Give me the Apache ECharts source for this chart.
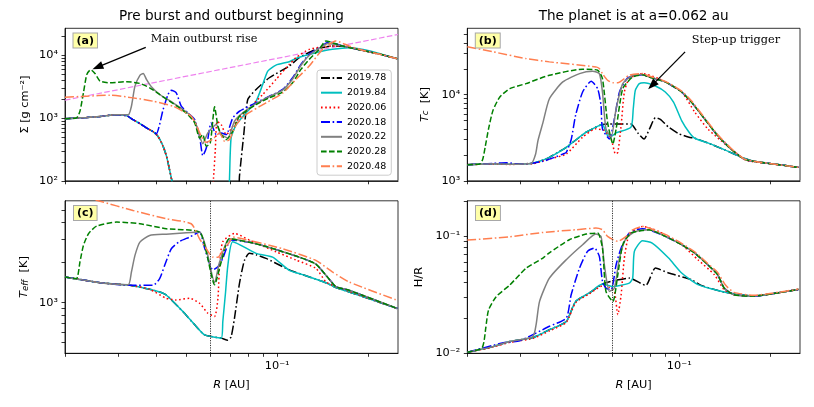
<!DOCTYPE html>
<html><head><meta charset="utf-8">
<script src="https://cdn.jsdelivr.net/npm/echarts@6/dist/echarts.min.js"></script>
<style>html,body{margin:0;padding:0;background:#fff}#c{width:814px;height:407px}</style>
</head><body><div id="c"></div>
<script>
// ---------- data ----------
const years = ['2019.78','2019.84','2020.06','2020.18','2020.22','2020.28','2020.48'];

const rTicks = [0.02,0.03,0.04,0.05,0.06,0.07,0.08,0.09,0.1,0.2];
const rLabels = [0.1];
const sigTicks = [100,200,300,400,500,600,700,800,900,1000,2000,3000,4000,5000,6000,7000,8000,9000,10000,20000];
const sigLabels = [100,1000,10000];
const tcTicks = [1000,2000,3000,4000,5000,6000,7000,8000,9000,10000,20000,30000,40000,50000];
const tcLabels = [1000,10000];
const teffTicks = [400,500,600,700,800,900,1000,2000,3000,4000,5000];
const teffLabels = [1000];
const hrTicks = [0.01,0.02,0.03,0.04,0.05,0.06,0.07,0.08,0.09,0.1,0.2];
const hrLabels = [0.01,0.1];
const planetR = 0.062;

// Panel (a): surface density
const sig_1978 = [[0.020,980],[0.0236,1020],[0.0261,1060],[0.0292,1130],[0.0319,1090],[0.0335,946],[0.0353,817],[0.0371,697],[0.0390,608],[0.0405,512],[0.0421,354],[0.0432,245],[0.0442,150],[0.0451,95],[0.0460,60],[0.0745,60],[0.0751,117],[0.0776,545],[0.0800,1977],[0.0852,2858],[0.0942,4396],[0.1096,6745],[0.1182,9180],[0.1341,12470],[0.152,14100],[0.1641,14000],[0.1957,11700],[0.2219,10200],[0.2487,8840]];
const sig_1984 = [[0.020,980],[0.0236,1020],[0.0261,1060],[0.0292,1130],[0.0319,1090],[0.0335,946],[0.0353,817],[0.0371,697],[0.0390,608],[0.0405,512],[0.0421,354],[0.0432,245],[0.0442,150],[0.0451,95],[0.0460,60],[0.0690,50],[0.0696,98],[0.0705,482],[0.0733,787],[0.0790,1211],[0.0852,1857],[0.0896,3435],[0.0931,5610],[0.0991,6995],[0.1096,7920],[0.1168,9180],[0.1341,11000],[0.152,12470],[0.1726,13270],[0.1957,12170],[0.2219,10370],[0.2487,8840]];
const sig_2006 = [[0.020,980],[0.0236,1020],[0.0261,1060],[0.0292,1130],[0.0319,1090],[0.0335,946],[0.0353,817],[0.0371,697],[0.0390,608],[0.0405,512],[0.0421,354],[0.0432,245],[0.0442,150],[0.0451,95],[0.0460,60],[0.0610,60],[0.0617,110],[0.0625,294],[0.0634,889],[0.0654,787],[0.0679,545],[0.0733,889],[0.0810,1456],[0.0896,2377],[0.0991,4130],[0.1096,7180],[0.1153,9180],[0.1275,12470],[0.152,14100],[0.1641,14000],[0.1957,11700],[0.2219,10200],[0.2487,8840]];
const sig_2018 = [[0.020,980],[0.0236,1020],[0.0261,1060],[0.0292,1130],[0.0319,1090],[0.0335,946],[0.0353,817],[0.0371,697],[0.0390,608],[0.0400,565],[0.0421,1368],[0.0437,2377],[0.0448,2786],[0.0465,2530],[0.0483,1546],[0.0508,1211],[0.0535,946],[0.0555,512],[0.0569,251],[0.0584,333],[0.0606,837],[0.0630,545],[0.0654,580],[0.0679,545],[0.0714,1006],[0.0751,1285],[0.0852,1750],[0.0942,2230],[0.1042,2860],[0.1124,4390],[0.1197,7180],[0.1275,10370],[0.1376,13260],[0.1484,16340],[0.1641,14100],[0.1957,11730],[0.2219,10200],[0.2487,8840]];
const sig_2022 = [[0.020,980],[0.0236,1020],[0.0261,1060],[0.0292,1130],[0.0323,1125],[0.0331,1546],[0.0340,3228],[0.0353,4786],[0.0362,5152],[0.0371,4130],[0.0385,3155],[0.0410,2377],[0.0454,1750],[0.0489,1368],[0.0521,1070],[0.0541,787],[0.0555,512],[0.0569,391],[0.0591,580],[0.0630,787],[0.0654,545],[0.0688,482],[0.0723,889],[0.0770,1211],[0.0852,1700],[0.0942,2200],[0.1042,2800],[0.1124,4200],[0.1197,6900],[0.1275,10000],[0.1376,13000],[0.1470,15500],[0.1641,14100],[0.1957,11730],[0.2219,10200],[0.2487,8840]];
const sig_2028 = [[0.020,980],[0.0218,1000],[0.0224,1285],[0.0230,2530],[0.0236,4967],[0.0243,5900],[0.0251,5150],[0.0261,3880],[0.0281,3657],[0.0319,3800],[0.0353,3566],[0.0380,3040],[0.0410,2377],[0.0442,1857],[0.0477,1456],[0.0508,1138],[0.0535,837],[0.0555,482],[0.0569,545],[0.0584,354],[0.0602,401],[0.0622,1510],[0.0638,740],[0.0654,545],[0.0679,453],[0.0714,615],[0.0751,1070],[0.0852,1644],[0.0942,2100],[0.1042,2590],[0.1124,3657],[0.1197,5970],[0.1275,8630],[0.1376,12470],[0.1446,16960],[0.152,15960],[0.1641,14100],[0.1957,11730],[0.2219,10200],[0.2487,8840]];
const sig_2048 = [[0.020,2150],[0.0236,2235],[0.0281,2317],[0.0335,2100],[0.0390,1857],[0.0454,1546],[0.0489,1285],[0.0521,1070],[0.0541,787],[0.0562,512],[0.0584,410],[0.0614,464],[0.0646,580],[0.0671,426],[0.0696,453],[0.0733,787],[0.0790,1138],[0.0919,1750],[0.1042,2500],[0.1153,4130],[0.1275,6750],[0.1411,12470],[0.156,16960],[0.1726,14100],[0.1957,11730],[0.2219,10200],[0.2487,8840]];
const sig_fit = [[0.02,1930],[0.25,21500]];
const arrowA = [[0.0369,13400],[0.0256,6500]];
const textA = [0.0383,18000];

// Panel (b): central temperature
const tc_1978 = [[0.020,1540],[0.0243,1580],[0.0276,1560],[0.0329,1600],[0.0355,1740],[0.0373,1872],[0.0424,2450],[0.0493,3664],[0.0545,4385],[0.0558,4510],[0.0580,4560],[0.0651,4580],[0.0693,4580],[0.0730,3600],[0.0765,3060],[0.0800,4100],[0.0834,5400],[0.0866,5160],[0.0922,4200],[0.0998,3509],[0.1077,3208],[0.1124,3120],[0.1241,2755],[0.1406,2300],[0.1633,1825],[0.1760,1683],[0.2042,1567],[0.247,1432]];
const tc_1984 = [[0.020,1540],[0.0243,1580],[0.0276,1560],[0.0329,1600],[0.0355,1740],[0.0373,1872],[0.0424,2450],[0.0493,3664],[0.0545,4385],[0.0558,4510],[0.0580,3350],[0.0596,3290],[0.0619,3597],[0.0693,4200],[0.0705,6870],[0.0716,11240],[0.0738,13430],[0.0765,13800],[0.0834,12620],[0.0899,10740],[0.0957,8210],[0.1018,5010],[0.1077,3664],[0.1124,3120],[0.1241,2755],[0.1406,2300],[0.1633,1825],[0.1760,1683],[0.2042,1567],[0.247,1432]];
const tc_2006 = [[0.020,1540],[0.0243,1560],[0.0276,1550],[0.0329,1580],[0.0355,1700],[0.0373,1790],[0.0424,2047],[0.0480,3208],[0.0531,4010],[0.0566,3838],[0.0596,3063],[0.0616,2047],[0.0627,2142],[0.0643,4385],[0.0659,10740],[0.0684,15370],[0.0756,17580],[0.0855,15370],[0.1018,10740],[0.1124,6280],[0.1241,4010],[0.1372,2930],[0.1554,2047],[0.1674,1711],[0.2042,1567],[0.247,1432]];
const tc_2018 = [[0.020,1540],[0.0243,1590],[0.0269,1622],[0.0296,1560],[0.0312,1567],[0.0355,1683],[0.0393,1905],[0.0413,2047],[0.0424,2142],[0.0440,3000],[0.0455,5740],[0.0480,10740],[0.0512,14310],[0.0538,11750],[0.0552,7500],[0.0558,4010],[0.0588,3063],[0.0611,5250],[0.0635,10740],[0.0676,15660],[0.0756,17000],[0.0794,16070],[0.0899,14060],[0.1018,10740],[0.1096,8210],[0.1211,5250],[0.1338,3350],[0.1478,2350],[0.1633,1790],[0.1760,1683],[0.2042,1567],[0.247,1432]];
const tc_2022 = [[0.020,1540],[0.0243,1580],[0.0276,1560],[0.0325,1592],[0.0336,2047],[0.0342,2930],[0.0355,4710],[0.0373,8980],[0.0413,14060],[0.0469,17580],[0.0518,18700],[0.0545,17580],[0.0558,10740],[0.0573,4010],[0.0596,3208],[0.0619,6870],[0.0651,13430],[0.0702,16820],[0.0756,17200],[0.0794,16070],[0.0899,14060],[0.1018,10740],[0.1096,8210],[0.1211,5250],[0.1338,3350],[0.1478,2350],[0.1633,1790],[0.1760,1683],[0.2042,1567],[0.247,1432]];
const tc_2028 = [[0.020,1540],[0.0220,1567],[0.0225,1790],[0.0229,2450],[0.0235,4010],[0.0243,6560],[0.0256,9390],[0.0276,11750],[0.0312,13430],[0.0373,16820],[0.0480,19770],[0.0538,19230],[0.0558,15370],[0.0580,4800],[0.0604,2680],[0.0619,4010],[0.0651,11750],[0.0702,16070],[0.0756,17000],[0.0794,16070],[0.0899,14060],[0.1018,10740],[0.1096,8210],[0.1211,5250],[0.1338,3350],[0.1478,2350],[0.1633,1790],[0.1760,1683],[0.2042,1567],[0.247,1432]];
const tc_2048 = [[0.020,35970],[0.0243,31480],[0.0312,26300],[0.0373,24040],[0.0531,21030],[0.0545,20090],[0.0558,17580],[0.0580,14700],[0.0604,13800],[0.0627,13800],[0.0684,16820],[0.0756,17580],[0.0794,16500],[0.0899,14300],[0.1018,11000],[0.1096,8500],[0.1211,5400],[0.1338,3450],[0.1478,2400],[0.1633,1800],[0.1760,1690],[0.2042,1567],[0.247,1432]];
const arrowB = [[0.1045,31400],[0.0813,12840]];
const textB = [0.110,43000];

// Panel (c): effective temperature
const teff_1978 = [[0.020,1560],[0.0261,1413],[0.0327,1350],[0.0380,1260],[0.0410,1203],[0.0431,1142],[0.0489,856],[0.0541,661],[0.0577,571],[0.0654,540],[0.0688,521],[0.0705,552],[0.0723,758],[0.0751,1390],[0.0780,2080],[0.0810,2350],[0.0852,2296],[0.0919,2155],[0.1042,1866],[0.1124,1722],[0.1213,1624],[0.1446,1413],[0.156,1297],[0.1726,1203],[0.2487,902]];
const teff_1984 = [[0.020,1560],[0.0261,1413],[0.0327,1350],[0.0380,1260],[0.0410,1203],[0.0431,1142],[0.0489,856],[0.0541,661],[0.0577,571],[0.0654,540],[0.0662,720],[0.0676,1203],[0.0688,1919],[0.0714,2877],[0.0852,2350],[0.0966,2203],[0.1096,1750],[0.1213,1624],[0.1446,1413],[0.156,1297],[0.1726,1203],[0.2487,902]];
const teff_2006 = [[0.020,1560],[0.0261,1413],[0.0327,1350],[0.0380,1260],[0.0431,1078],[0.0465,1047],[0.0515,1078],[0.0555,989],[0.0591,831],[0.0622,785],[0.0638,1078],[0.0646,1919],[0.0662,2877],[0.0723,3320],[0.0810,2960],[0.0991,2416],[0.1153,2093],[0.1341,1811],[0.1446,1439],[0.156,1319],[0.1726,1216],[0.2487,902]];
const teff_2018 = [[0.020,1560],[0.0261,1413],[0.0327,1350],[0.0390,1350],[0.0410,1515],[0.0426,1911],[0.0448,2545],[0.0477,2890],[0.0515,3120],[0.0555,3400],[0.0577,2563],[0.0614,1762],[0.0638,1866],[0.0662,2155],[0.0705,2960],[0.0810,2850],[0.0919,2650],[0.1042,2420],[0.1182,2200],[0.1341,1950],[0.1484,1500],[0.156,1320],[0.1726,1238],[0.2487,902]];
const teff_2022 = [[0.020,1560],[0.0261,1413],[0.0323,1365],[0.0331,1702],[0.0340,2270],[0.0353,2858],[0.0380,3206],[0.0431,3280],[0.0502,3359],[0.0555,3400],[0.0584,2545],[0.0622,1413],[0.0646,2022],[0.0696,3026],[0.0810,2850],[0.0919,2650],[0.1042,2420],[0.1182,2200],[0.1341,1950],[0.1484,1500],[0.156,1320],[0.1726,1238],[0.2487,902]];
const teff_2028 = [[0.020,1560],[0.0218,1515],[0.0224,2022],[0.0230,2698],[0.0239,3304],[0.0254,3767],[0.0296,4045],[0.0353,3930],[0.0431,3600],[0.0555,3400],[0.0584,2404],[0.0622,1365],[0.0654,2022],[0.0696,3026],[0.0810,2850],[0.0919,2650],[0.1042,2420],[0.1182,2200],[0.1341,1950],[0.1484,1500],[0.156,1320],[0.1726,1238],[0.2487,902]];
const teff_2048 = [[0.020,6870],[0.0261,5808],[0.0335,4945],[0.0431,4285],[0.0521,3928],[0.0555,3026],[0.0584,2545],[0.0614,2203],[0.0638,2200],[0.0662,2470],[0.0696,2858],[0.0714,3120],[0.0810,2944],[0.1042,2545],[0.1341,2080],[0.152,1702],[0.1726,1430],[0.2487,1041]];

// Panel (d): aspect ratio H/R
const hr_1978 = [[0.020,0.0102],[0.0243,0.0114],[0.0276,0.0126],[0.0329,0.0136],[0.0373,0.0159],[0.0424,0.0187],[0.0455,0.0277],[0.0505,0.0327],[0.0558,0.0390],[0.0596,0.0411],[0.0684,0.0438],[0.0775,0.0380],[0.0834,0.0534],[0.0922,0.0484],[0.1096,0.0425],[0.1181,0.0380],[0.1372,0.0338],[0.1515,0.0321],[0.176,0.0308],[0.2042,0.0323],[0.247,0.0351]];
const hr_1984 = [[0.020,0.0102],[0.0243,0.0114],[0.0276,0.0126],[0.0329,0.0136],[0.0373,0.0159],[0.0424,0.0187],[0.0455,0.0277],[0.0505,0.0327],[0.0558,0.0390],[0.0604,0.0372],[0.0684,0.0397],[0.0702,0.0438],[0.0711,0.0740],[0.0756,0.0912],[0.0814,0.0871],[0.0922,0.0649],[0.1018,0.0484],[0.1152,0.0385],[0.1372,0.0338],[0.1515,0.0321],[0.176,0.0308],[0.2042,0.0323],[0.247,0.0351]];
const hr_2006 = [[0.020,0.0102],[0.0243,0.0113],[0.0276,0.0124],[0.0329,0.0134],[0.0373,0.0155],[0.0424,0.0184],[0.0455,0.027],[0.0505,0.0322],[0.0558,0.0375],[0.0588,0.0365],[0.0611,0.0337],[0.0627,0.0214],[0.0643,0.0316],[0.0659,0.0649],[0.0684,0.1026],[0.0756,0.1208],[0.0855,0.1096],[0.1018,0.0844],[0.1152,0.0628],[0.1305,0.0468],[0.1406,0.0349],[0.1515,0.0316],[0.176,0.0308],[0.2042,0.0323],[0.247,0.0351]];
const hr_2018 = [[0.020,0.0102],[0.0263,0.0123],[0.0298,0.0128],[0.0373,0.0170],[0.0424,0.0200],[0.0440,0.0316],[0.0469,0.0534],[0.0498,0.0740],[0.0525,0.0790],[0.0545,0.0671],[0.0558,0.0411],[0.0573,0.0360],[0.0596,0.0349],[0.0619,0.0570],[0.0643,0.0790],[0.0684,0.1062],[0.0756,0.1155],[0.0794,0.1132],[0.0899,0.0994],[0.1018,0.0844],[0.1124,0.0716],[0.1241,0.0570],[0.1338,0.0468],[0.1406,0.0360],[0.1515,0.0316],[0.176,0.0308],[0.2042,0.0323],[0.247,0.0351]];
const hr_2022 = [[0.020,0.0102],[0.0243,0.0114],[0.0276,0.0126],[0.0329,0.0139],[0.0337,0.0174],[0.0346,0.0276],[0.0373,0.0438],[0.0424,0.0629],[0.0480,0.0844],[0.0531,0.104],[0.0552,0.0994],[0.0566,0.0570],[0.0588,0.0337],[0.0611,0.0360],[0.0635,0.0649],[0.0668,0.0961],[0.0720,0.1096],[0.0794,0.1132],[0.0899,0.0994],[0.1018,0.0844],[0.1124,0.0716],[0.1241,0.0570],[0.1338,0.0468],[0.1406,0.0360],[0.1515,0.0316],[0.176,0.0308],[0.2042,0.0323],[0.247,0.0351]];
const hr_2028 = [[0.020,0.0102],[0.0223,0.0110],[0.0227,0.0126],[0.0230,0.0163],[0.0235,0.0234],[0.0249,0.0304],[0.0276,0.0382],[0.0312,0.053],[0.0355,0.065],[0.0373,0.072],[0.0434,0.0931],[0.0493,0.104],[0.0538,0.1062],[0.0558,0.079],[0.0573,0.0337],[0.0604,0.0277],[0.0627,0.0468],[0.0651,0.0844],[0.0693,0.1062],[0.0756,0.1117],[0.0794,0.1132],[0.0899,0.0994],[0.1018,0.0844],[0.1124,0.0716],[0.1241,0.0570],[0.1338,0.0468],[0.1406,0.0360],[0.1515,0.0316],[0.176,0.0308],[0.2042,0.0323],[0.247,0.0351]];
const hr_2048 = [[0.020,0.0924],[0.0276,0.0987],[0.0355,0.1074],[0.0455,0.1132],[0.0531,0.117],[0.0558,0.1132],[0.0580,0.0994],[0.0627,0.0901],[0.0668,0.0994],[0.0702,0.1132],[0.0756,0.1208],[0.0899,0.1033],[0.1018,0.0866],[0.1124,0.0735],[0.1241,0.0584],[0.1338,0.049],[0.142,0.0382],[0.1515,0.0331],[0.176,0.0313],[0.2042,0.0327],[0.247,0.0353]];

// ---------- styling ----------
const FONT = 'DejaVu Sans';
const colors = ['#000000','#00bfbf','#ff0000','#0000ff','#808080','#008000','#ff7f50'];
const DASHDOT = [9,2.6,1.6,2.6];
const styles = [DASHDOT,'solid',[1.6,2.6],DASHDOT,'solid',[5.6,2.4],DASHDOT];
const panelData = [
  [sig_1978,sig_1984,sig_2006,sig_2018,sig_2022,sig_2028,sig_2048],
  [tc_1978,tc_1984,tc_2006,tc_2018,tc_2022,tc_2028,tc_2048],
  [teff_1978,teff_1984,teff_2006,teff_2018,teff_2022,teff_2028,teff_2048],
  [hr_1978,hr_1984,hr_2006,hr_2018,hr_2022,hr_2028,hr_2048]
];
const grids = [
  {left:65, top:28.3, width:333, height:152.5},
  {left:467.3, top:28.3, width:332.7, height:152.5},
  {left:65, top:200.8, width:333, height:152.5},
  {left:467.3, top:200.8, width:332.7, height:152.5}
];

const SUP = {'-':'\u207B','0':'\u2070','1':'\u00B9','2':'\u00B2','3':'\u00B3','4':'\u2074','5':'\u2075','6':'\u2076','7':'\u2077','8':'\u2078','9':'\u2079'};
function fmtPow(v){
  const e = Math.round(Math.log10(v));
  if (Math.abs(v/Math.pow(10,e)-1) > 1e-6) return '';
  return '10' + String(e).split('').map(c=>SUP[c]).join('');
}
const nameRich = {
  n:{fontFamily:FONT,fontSize:11.3,color:'#000'},
  it:{fontFamily:FONT,fontSize:11.3,fontStyle:'italic',color:'#000'},
  sub:{fontFamily:FONT,fontSize:8.5,fontStyle:'italic',color:'#000',verticalAlign:'bottom'}
};
function xAx(g, showLabel){
  return {type:'log', logBase:10, gridIndex:g, min:0.02, max:0.25,
    axisLine:{show:true,onZero:false,lineStyle:{color:'#000',width:0.8}},
    axisTick:{show:true,length:3.5,customValues:rTicks,lineStyle:{color:'#000',width:0.8}},
    axisLabel:{show:showLabel,customValues:rLabels,formatter:fmtPow,fontFamily:FONT,fontSize:11.3,color:'#000',margin:7},
    splitLine:{show:false},
    name: showLabel ? '{it|R}{n| [AU]}' : '', nameLocation:'middle', nameGap:26,
    nameTextStyle:{rich:nameRich}
  };
}
function yAx(g, min, max, ticks, labels, name, gap){
  return {type:'log', logBase:10, gridIndex:g, min:min, max:max,
    axisLine:{show:true,onZero:false,lineStyle:{color:'#000',width:0.8}},
    axisTick:{show:true,length:3.5,customValues:ticks,lineStyle:{color:'#000',width:0.8}},
    axisLabel:{customValues:labels,formatter:fmtPow,fontFamily:FONT,fontSize:11.3,color:'#000',margin:7},
    splitLine:{show:false},
    name:name, nameLocation:'middle', nameGap:gap,
    nameTextStyle:{fontFamily:FONT,fontSize:11.3,color:'#000',rich:nameRich}
  };
}

const series = [];
series.push({type:'line', name:'fit', xAxisIndex:0, yAxisIndex:0, data:sig_fit, symbol:'none', z:1,
  lineStyle:{color:'#ee82ee', width:1.2, type:[5.6,2.4]}, itemStyle:{color:'#ee82ee'}, silent:true,
  markLine:{silent:true, symbol:['none','triangle'], symbolSize:[8,11], label:{show:false},
    lineStyle:{color:'#000', width:1.3, type:'solid'},
    data:[[{coord:arrowA[0]},{coord:arrowA[1]}]]}
});
panelData.forEach((arrs, g) => {
  arrs.forEach((d, i) => {
    const s = {type:'line', name:years[i], xAxisIndex:g, yAxisIndex:g, data:d, symbol:'none', showSymbol:false,
      smooth:0.2, z:2, lineStyle:{color:colors[i], width:1.5, type:styles[i]}, itemStyle:{color:colors[i]}};
    if ((g===2 || g===3) && i===0) {
      s.markLine = {silent:true, symbol:'none', label:{show:false}, animation:false,
        lineStyle:{color:'#333', width:1, type:[1.2,1.2]}, data:[{xAxis:planetR}]};
    }
    if (g===1 && i===0) {
      s.markLine = {silent:true, symbol:['none','triangle'], symbolSize:[8,11], label:{show:false},
        lineStyle:{color:'#000', width:1.3, type:'solid'},
        data:[[{coord:arrowB[0]},{coord:arrowB[1]}]]};
    }
    series.push(s);
  });
});

const chart = echarts.init(document.getElementById('c'), null, {renderer:'canvas'});
const option = {
  animation:false,
  backgroundColor:'#fff',
  textStyle:{fontFamily:FONT},
  grid: grids.map(g => Object.assign({show:true, borderColor:'#000', borderWidth:0.8, backgroundColor:'rgba(0,0,0,0)'}, g)),
  xAxis:[xAx(0,false), xAx(1,false), xAx(2,true), xAx(3,true)],
  yAxis:[
    yAx(0,100,27000,sigTicks,sigLabels,'\u03A3 [g cm\u207B\u00B2]',34),
    yAx(1,1000,59000,tcTicks,tcLabels,'{it|T}{sub|c}{n|  [K]}',37),
    yAx(2,415,5850,teffTicks,teffLabels,'{it|T}{sub|eff}{n|  [K]}',35),
    yAx(3,0.01,0.2,hrTicks,hrLabels,'H/R',43)
  ],
  legend:{data:years, orient:'vertical', left:317, top:70, itemWidth:21, itemHeight:10, itemGap:4.7,
    padding:[3,5,4,3], backgroundColor:'rgba(255,255,255,0.85)', borderColor:'#cccccc', borderWidth:1, borderRadius:3,
    itemStyle:{color:'rgba(0,0,0,0)', borderWidth:0, opacity:0},
    textStyle:{fontFamily:FONT, fontSize:9.5, color:'#000'}},
  series:series
};
chart.setOption(option);

const pA = chart.convertToPixel({gridIndex:0}, textA);
const pB = chart.convertToPixel({gridIndex:1}, textB);
function box(label, x, y){
  return {type:'text', x:x, y:y, z:100, style:{text:label, fontFamily:FONT, fontSize:11, fontWeight:'bold', fill:'#000',
    backgroundColor:'#ffffa8', borderColor:'#a8a8a8', borderWidth:1, padding:[2,3,1,3]}};
}
chart.setOption({graphic:[
  {type:'text', x:231.5, y:16, style:{text:'Pre burst and outburst beginning', fontFamily:FONT, fontSize:13.6, fill:'#000', textAlign:'center', textVerticalAlign:'middle'}},
  {type:'text', x:633.7, y:16, style:{text:'The planet is at a=0.062 au', fontFamily:FONT, fontSize:13.6, fill:'#000', textAlign:'center', textVerticalAlign:'middle'}},
  box('(a)', 73.5, 33.5), box('(b)', 475.8, 33.5), box('(c)', 74, 206), box('(d)', 476, 206),
  {type:'text', x:pA[0], y:pA[1], style:{text:'Main outburst rise', fontFamily:'DejaVu Serif', fontSize:11.3, fill:'#000', textAlign:'left', textVerticalAlign:'middle'}},
  {type:'text', x:pB[0], y:pB[1], style:{text:'Step-up trigger', fontFamily:'DejaVu Serif', fontSize:11.3, fill:'#000', textAlign:'left', textVerticalAlign:'middle'}}
]});
</script></body></html>
